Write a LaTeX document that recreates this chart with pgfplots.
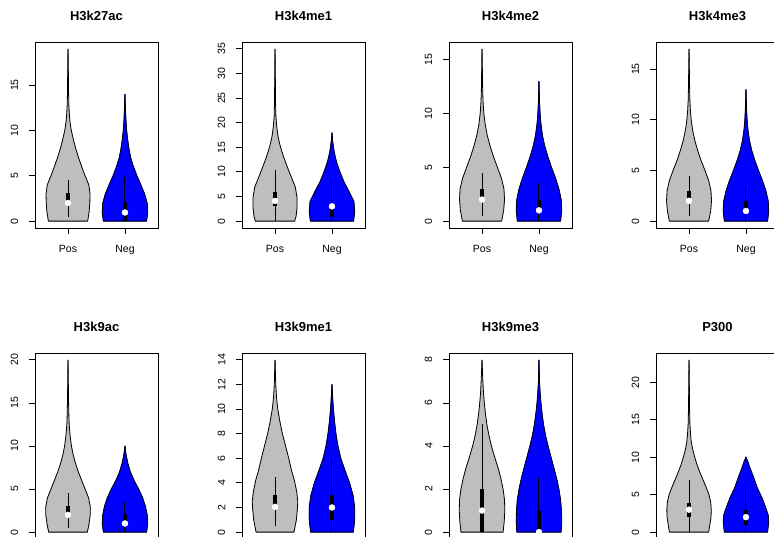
\documentclass[border=0pt]{standalone}
\usepackage{fontspec}
\setmainfont{Liberation Sans}
\usepackage{pgfplots}
\pgfplotsset{compat=1.18}
\usepackage{pgfplotstable}

\definecolor{vgrey}{HTML}{BEBEBE}
\definecolor{vblue}{HTML}{0000FF}

% violin outlines: y, half width (x units)
\pgfplotstableread{
y w
0 0
0 0.345
1 0.37
2 0.383
3 0.386
4 0.365
5 0.3
6 0.24
7 0.185
8 0.135
9 0.094
10 0.057
11 0.034
12 0.021
13 0.013
15 0.008
17 0.005
19 0
}\tAp
\pgfplotstableread{
y w
0 0
0 0.38
1 0.4
2 0.39
3 0.345
4 0.28
5 0.21
6 0.15
7 0.1
8 0.07
9 0.047
10 0.03
11 0.019
12 0.012
13 0.006
14 0
}\tAn
\pgfplotstableread{
y w
0 0
0 0.345
1 0.37
2.7 0.386
4.8 0.386
6.9 0.357
8.9 0.287
11 0.216
13 0.152
15.1 0.094
17.2 0.053
19.2 0.03
21.3 0.015
25 0.008
30 0.005
35 0
}\tBp
\pgfplotstableread{
y w
0 0
0 0.38
2 0.4
4 0.385
6 0.3
8 0.21
10 0.14
12 0.08
14 0.04
16 0.015
18 0
}\tBn
\pgfplotstableread{
y w
0 0
0 0.345
1 0.38
2 0.395
3 0.385
4 0.34
5 0.27
6 0.2
7 0.14
8 0.09
9 0.055
10 0.032
11 0.019
12 0.012
14 0.006
16 0
}\tCp
\pgfplotstableread{
y w
0 0
0 0.38
1 0.4
2 0.39
3 0.35
4 0.29
5 0.22
6 0.155
7 0.1
8 0.06
9 0.035
10 0.02
11 0.011
13 0
}\tCn
\pgfplotstableread{
y w
0 0
0 0.345
1 0.38
2 0.395
3 0.385
4 0.345
5 0.28
6 0.21
7 0.15
8 0.1
9 0.062
10 0.038
11 0.023
12 0.014
14 0.008
17 0
}\tDp
\pgfplotstableread{
y w
0 0
0 0.38
1 0.4
2 0.39
3 0.35
4 0.29
5 0.22
6 0.155
7 0.1
8 0.06
9 0.035
10 0.02
11 0.011
13 0
}\tDn
\pgfplotstableread{
y w
0 0
0 0.34
1 0.37
2 0.39
3 0.39
4 0.36
5 0.3
6 0.24
7 0.18
8 0.13
9 0.09
10 0.06
11 0.04
12 0.026
13 0.017
15 0.01
17 0.006
20 0
}\tEp
\pgfplotstableread{
y w
0 0
0 0.38
1 0.4
2 0.39
3 0.36
4 0.31
5 0.24
6 0.16
7 0.095
8 0.05
9 0.02
10 0
}\tEn
\pgfplotstableread{
y w
0 0
0 0.333
1 0.375
2 0.395
2.5 0.4
3.3 0.38
4.2 0.34
5 0.29
6 0.24
7 0.185
8 0.13
9 0.085
10 0.048
11 0.025
12 0.013
14 0
}\tFp
\pgfplotstableread{
y w
0 0
0 0.375
1 0.4
2 0.4
3 0.37
4 0.31
5 0.23
6 0.155
7 0.105
8 0.07
9 0.045
10 0.025
11 0.012
12 0
}\tFn
\pgfplotstableread{
y w
0 0
0 0.37
0.5 0.39
1 0.4
1.5 0.395
2 0.37
2.5 0.33
3 0.28
3.5 0.22
4 0.165
4.5 0.12
5 0.085
5.5 0.06
6 0.04
6.5 0.025
7 0.015
8 0
}\tGp
\pgfplotstableread{
y w
0 0
0 0.39
0.5 0.4
1 0.395
1.5 0.38
2 0.35
2.5 0.31
3 0.26
3.5 0.21
4 0.16
4.5 0.115
5 0.08
5.5 0.055
6 0.035
6.5 0.02
7 0.01
8 0
}\tGn
\pgfplotstableread{
y w
0 0
0 0.345
2 0.386
3 0.39
4 0.38
5 0.35
6 0.3
7 0.245
8 0.19
9 0.14
10 0.1
11 0.065
12 0.04
13 0.027
14.5 0.015
17 0.008
20 0.005
23 0
}\tHp
\pgfplotstableread{
y w
0 0
0 0.38
1.4 0.4
2.3 0.39
3.2 0.35
4.6 0.28
5.9 0.2
7.3 0.135
8.6 0.07
9.5 0.03
10 0
}\tHn

% table, center, colour: two filled halves closed along the centre line, then the outline
\newcommand{\violin}[3]{%
  \addplot[fill=#3, draw=#3, line width=0.5pt] table[x expr=#2+\thisrow{w}, y=y] {#1} -- cycle;
  \addplot[fill=#3, draw=#3, line width=0.5pt] table[x expr=#2-\thisrow{w}, y=y] {#1} -- cycle;
  \addplot[black, line width=0.8pt, line join=round] table[x expr=#2+\thisrow{w}, y=y] {#1};
  \addplot[black, line width=0.8pt, line join=round] table[x expr=#2-\thisrow{w}, y=y] {#1};
}
% center, lower whisker, upper whisker, q1, q3, median
\newcommand{\violbox}[6]{%
  \addplot[black, line width=1pt] coordinates {(#1,#2) (#1,#3)};
  \addplot[black, line width=4pt] coordinates {(#1,#4) (#1,#5)};
  \addplot[only marks, mark=*, mark size=3pt, mark options={fill=white, draw=white}] coordinates {(#1,#6)};
}

\pgfplotsset{
  vio/.style={
    width=123pt, height=186pt, scale only axis,
    anchor=south west,
    xmin=0.42, xmax=2.58,
    xtick={1,2}, xticklabels={Pos,Neg},
    tick pos=left, tick align=outside,
    major tick length=6pt,
    axis line style={line width=0.8pt},
    every tick/.style={black, line width=0.8pt},
    ticklabel style={font=\fontsize{10.5}{12}\selectfont},
    /pgf/number format/assume math mode=true,
    yticklabel style={xshift=-10.5pt, rotate=90, anchor=south, inner sep=0pt},
    xticklabel style={yshift=-11pt, anchor=north, inner sep=0pt},
    title style={font=\bfseries\fontsize{13}{15}\selectfont, at={(0.5,1)}, anchor=base, yshift=15pt},
  },
  lower/.style={xticklabels={\empty,\empty}},
}

\begin{document}
\begin{tikzpicture}
\path[use as bounding box] (0pt,0pt) rectangle (774pt,537pt);

\begin{axis}[vio, at={(35pt,309pt)}, title={H3k27ac}, ymin=-0.76, ymax=19.76, ytick={0,5,10,15}]
\violin{\tAp}{1}{vgrey}
\violin{\tAn}{2}{vblue}
\violbox{1}{0.4}{4.5}{2.2}{3.05}{2}
\violbox{2}{0}{4.9}{0}{2}{0.95}
\end{axis}

\begin{axis}[vio, at={(242pt,309pt)}, title={H3k4me1}, ymin=-1.4, ymax=36.4, ytick={0,5,10,15,20,25,30,35}]
\violin{\tBp}{1}{vgrey}
\violin{\tBn}{2}{vblue}
\violbox{1}{0}{10.4}{3}{6}{4.1}
\violbox{2}{0}{8.4}{0.9}{3}{3}
\end{axis}

\begin{axis}[vio, at={(449pt,309pt)}, title={H3k4me2}, ymin=-0.64, ymax=16.64, ytick={0,5,10,15}]
\violin{\tCp}{1}{vgrey}
\violin{\tCn}{2}{vblue}
\violbox{1}{0.5}{4.5}{2.2}{3}{2}
\violbox{2}{0}{3.5}{1}{2}{1}
\end{axis}

\begin{axis}[vio, at={(656pt,309pt)}, title={H3k4me3}, ymin=-0.68, ymax=17.68, ytick={0,5,10,15}]
\violin{\tDp}{1}{vgrey}
\violin{\tDn}{2}{vblue}
\violbox{1}{0.5}{4.5}{2.2}{3}{2}
\violbox{2}{0}{3.5}{1}{2}{1}
\end{axis}

\begin{axis}[vio, lower, at={(35pt,-2pt)}, title={H3k9ac}, ymin=-0.8, ymax=20.8, ytick={0,5,10,15,20}]
\violin{\tEp}{1}{vgrey}
\violin{\tEn}{2}{vblue}
\violbox{1}{0.5}{4.5}{2.2}{3}{2}
\violbox{2}{0}{3.5}{1}{2}{1}
\end{axis}

\begin{axis}[vio, lower, at={(242pt,-2pt)}, title={H3k9me1}, ymin=-0.56, ymax=14.56, ytick={0,2,4,6,8,10,12,14}]
\violin{\tFp}{1}{vgrey}
\violin{\tFn}{2}{vblue}
\violbox{1}{0.46}{4.5}{2.2}{3}{2.05}
\violbox{2}{0}{6}{1}{3}{2}
\end{axis}

\begin{axis}[vio, lower, at={(449pt,-2pt)}, title={H3k9me3}, ymin=-0.32, ymax=8.32, ytick={0,2,4,6,8}]
\violin{\tGp}{1}{vgrey}
\violin{\tGn}{2}{vblue}
\violbox{1}{0}{5}{0}{2}{1}
\violbox{2}{0}{2.5}{0}{1}{0}
\end{axis}

\begin{axis}[vio, lower, at={(656pt,-2pt)}, title={P300}, ymin=-0.92, ymax=23.92, ytick={0,5,10,15,20}]
\violin{\tHp}{1}{vgrey}
\violin{\tHn}{2}{vblue}
\violbox{1}{0}{7}{2}{3.9}{3}
\violbox{2}{0}{6}{1}{3}{2}
\end{axis}
\end{tikzpicture}
\end{document}
